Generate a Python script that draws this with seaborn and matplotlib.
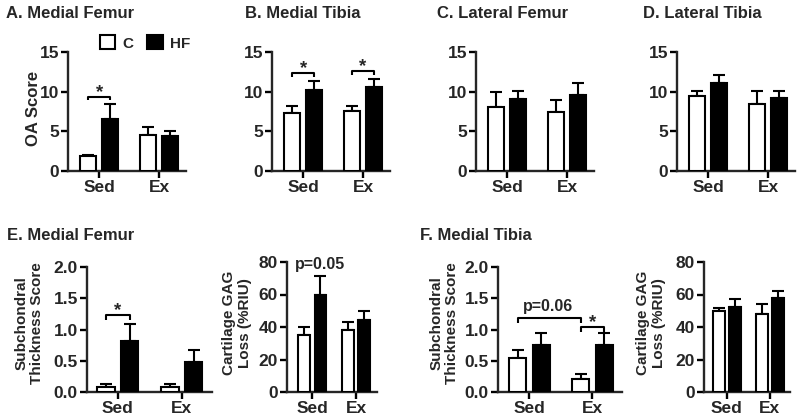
import numpy as np
import pandas as pd
import matplotlib
matplotlib.use("Agg")
import matplotlib.pyplot as plt
import seaborn as sns
from matplotlib.patches import Patch

sns.set_style("ticks")
plt.rcParams['font.family'] = ['Liberation Sans', 'DejaVu Sans']
plt.rcParams['font.weight'] = 'bold'
plt.rcParams['axes.labelweight'] = 'bold'

activity = ["Sed", "Ex"]
groups = ["C", "HF"]

# values: [Sed, Ex]
a_c = [1.85, 4.5];  a_hf = [6.6, 4.45];  a_c_err = [0.2, 1.0];   a_hf_err = [1.8, 0.55]
b_c = [7.35, 7.55]; b_hf = [10.2, 10.65]; b_c_err = [0.9, 0.7];  b_hf_err = [1.2, 0.95]
c_c = [8.1, 7.4];   c_hf = [9.1, 9.6];   c_c_err = [1.8, 1.5];   c_hf_err = [1.0, 1.5]
d_c = [9.5, 8.45];  d_hf = [11.05, 9.2]; d_c_err = [0.6, 1.65];  d_hf_err = [1.0, 0.85]
e1_c = [0.08, 0.08]; e1_hf = [0.81, 0.48]; e1_c_err = [0.05, 0.05]; e1_hf_err = [0.28, 0.19]
e2_c = [35.3, 37.9]; e2_hf = [59.5, 44.5]; e2_c_err = [4.7, 5.0];  e2_hf_err = [11.9, 5.1]
f1_c = [0.55, 0.21]; f1_hf = [0.75, 0.75]; f1_c_err = [0.13, 0.08]; f1_hf_err = [0.19, 0.19]
f2_c = [49.8, 48.2]; f2_hf = [52.3, 57.8]; f2_c_err = [1.9, 6.2];  f2_hf_err = [5.1, 4.4]

oa_ticks = [0, 5, 10, 15]
st_ticks = [0.0, 0.5, 1.0, 1.5, 2.0]
st_labels = ["0.0", "0.5", "1.0", "1.5", "2.0"]
gag_ticks = [0, 20, 40, 60, 80]

W, H = 800, 418
fig = plt.figure(figsize=(8.0, 4.18), dpi=100)

LW = 1.5

def rect(left, right, top, bottom):
    return [left / W, 1 - bottom / H, (right - left) / W, (bottom - top) / H]

def panel(r, c, hf, cerr, hferr, ylim, yticks, ylabels, xlim):
    ax = fig.add_axes(r)
    df = pd.DataFrame({"Activity": activity * 2,
                       "Group": ["C"] * 2 + ["HF"] * 2,
                       "Value": list(c) + list(hf)})
    sns.barplot(data=df, x="Activity", y="Value", hue="Group", order=activity,
                hue_order=groups, palette={"C": "white", "HF": "black"},
                edgecolor="black", linewidth=LW, width=0.74, gap=0.27,
                errorbar=None, legend=False, ax=ax, zorder=3)
    centers = []
    for cont, e in zip(ax.containers, [cerr, hferr]):
        xs = [p.get_x() + p.get_width() / 2 for p in cont]
        hs = [p.get_height() for p in cont]
        ax.errorbar(xs, hs, yerr=[np.zeros(len(e)), e], fmt='none', ecolor='black',
                    elinewidth=LW, capsize=4, capthick=LW, zorder=2)
        centers.append(xs)
    ax.set_xlim(*xlim)
    ax.set_ylim(*ylim)
    ax.set_yticks(yticks)
    ax.set_yticklabels(ylabels, fontsize=12.5, fontweight='bold')
    ax.set_xticks([0, 1])
    ax.set_xticklabels(activity, fontsize=12.5, fontweight='bold')
    ax.set_xlabel("")
    ax.set_ylabel("")
    sns.despine(ax=ax)
    for s in ["left", "bottom"]:
        ax.spines[s].set_linewidth(1.7)
    ax.tick_params(axis='both', length=5, width=1.7, pad=1.5, color='black')
    return ax, centers

def bracket(ax, x1, x2, y, h, label="*", fs=13.5):
    ax.plot([x1, x1, x2, x2], [y - h, y, y, y - h], color='black', lw=LW,
            clip_on=False, solid_capstyle='butt')
    if label:
        ax.text((x1 + x2) / 2, y, label, ha='center', va='baseline',
                fontsize=fs, fontweight='bold')

top_xlim = (-0.52, 1.45)
axA, cA = panel(rect(68, 186, 52, 171), a_c, a_hf, a_c_err, a_hf_err, (0, 15), oa_ticks, [str(t) for t in oa_ticks], top_xlim)
axB, cB = panel(rect(272, 390, 52, 171), b_c, b_hf, b_c_err, b_hf_err, (0, 15), oa_ticks, [str(t) for t in oa_ticks], top_xlim)
axC, cC = panel(rect(476, 594, 52, 171), c_c, c_hf, c_c_err, c_hf_err, (0, 15), oa_ticks, [str(t) for t in oa_ticks], top_xlim)
axD, cD = panel(rect(677, 795, 52, 171), d_c, d_hf, d_c_err, d_hf_err, (0, 15), oa_ticks, [str(t) for t in oa_ticks], top_xlim)

axE1, cE1 = panel(rect(87, 212, 267, 392), e1_c, e1_hf, e1_c_err, e1_hf_err, (0, 2), st_ticks, st_labels, (-0.48, 1.47))
axE2, cE2 = panel(rect(287, 377, 262, 392), e2_c, e2_hf, e2_c_err, e2_hf_err, (0, 80), gag_ticks, [str(t) for t in gag_ticks], (-0.58, 1.48))
axF1, cF1 = panel(rect(498, 622, 267, 392), f1_c, f1_hf, f1_c_err, f1_hf_err, (0, 2), st_ticks, st_labels, (-0.5, 1.47))
axF2, cF2 = panel(rect(704, 790, 262, 392), f2_c, f2_hf, f2_c_err, f2_hf_err, (0, 80), gag_ticks, [str(t) for t in gag_ticks], (-0.53, 1.47))

# significance marks
bracket(axA, cA[0][0], cA[1][0], 9.35, 0.45)
bracket(axB, cB[0][0], cB[1][0], 12.4, 0.5)
bracket(axB, cB[0][1], cB[1][1], 12.65, 0.5)
bracket(axE1, cE1[0][0], cE1[1][0], 1.23, 0.08)
axE2.text(0.18, 78.5, "p=0.05", ha='center', va='center', fontsize=11.5, fontweight='bold')
bracket(axF1, cF1[0][0], cF1[0][1], 1.18, 0.08, label=None)
axF1.text(0.3, 1.36, "p=0.06", ha='center', va='center', fontsize=11.5, fontweight='bold')
bracket(axF1, cF1[0][1], cF1[1][1], 1.04, 0.08)

# titles
TFS = 12
fig.text(6 / W, 1 - 14 / H, "A. Medial Femur", ha='left', va='center', fontsize=TFS, fontweight='bold')
fig.text(245 / W, 1 - 13 / H, "B. Medial Tibia", ha='left', va='center', fontsize=TFS, fontweight='bold')
fig.text(437 / W, 1 - 13 / H, "C. Lateral Femur", ha='left', va='center', fontsize=TFS, fontweight='bold')
fig.text(643 / W, 1 - 13 / H, "D. Lateral Tibia", ha='left', va='center', fontsize=TFS, fontweight='bold')
fig.text(7 / W, 1 - 235 / H, "E. Medial Femur", ha='left', va='center', fontsize=TFS, fontweight='bold')
fig.text(420 / W, 1 - 235 / H, "F. Medial Tibia", ha='left', va='center', fontsize=TFS, fontweight='bold')

# y labels
fig.text(33 / W, 1 - 108 / H, "OA Score", rotation=90, ha='center', va='center', fontsize=12, fontweight='bold')
for x, lab in [(29, "Subchondral\nThickness Score"), (237, "Cartilage GAG\nLoss (%RIU)"),
               (444, "Subchondral\nThickness Score"), (651, "Cartilage GAG\nLoss (%RIU)")]:
    fig.text(x / W, 1 - 323 / H, lab, rotation=90, ha='center', va='center',
             fontsize=11, fontweight='bold', multialignment='center', linespacing=1.15)

# legend
handles = [Patch(facecolor='white', edgecolor='black', linewidth=LW, label='C'),
           Patch(facecolor='black', edgecolor='black', linewidth=LW, label='HF')]
fig.legend(handles=handles, loc='center', bbox_to_anchor=(145 / W, 1 - 43 / H), ncol=2,
           frameon=False, handlelength=1.0, handleheight=1.0,
           handletextpad=0.5, columnspacing=0.9, borderpad=0, prop={'weight': 'bold', 'size': 11})

fig.savefig("out.png", dpi=100)
